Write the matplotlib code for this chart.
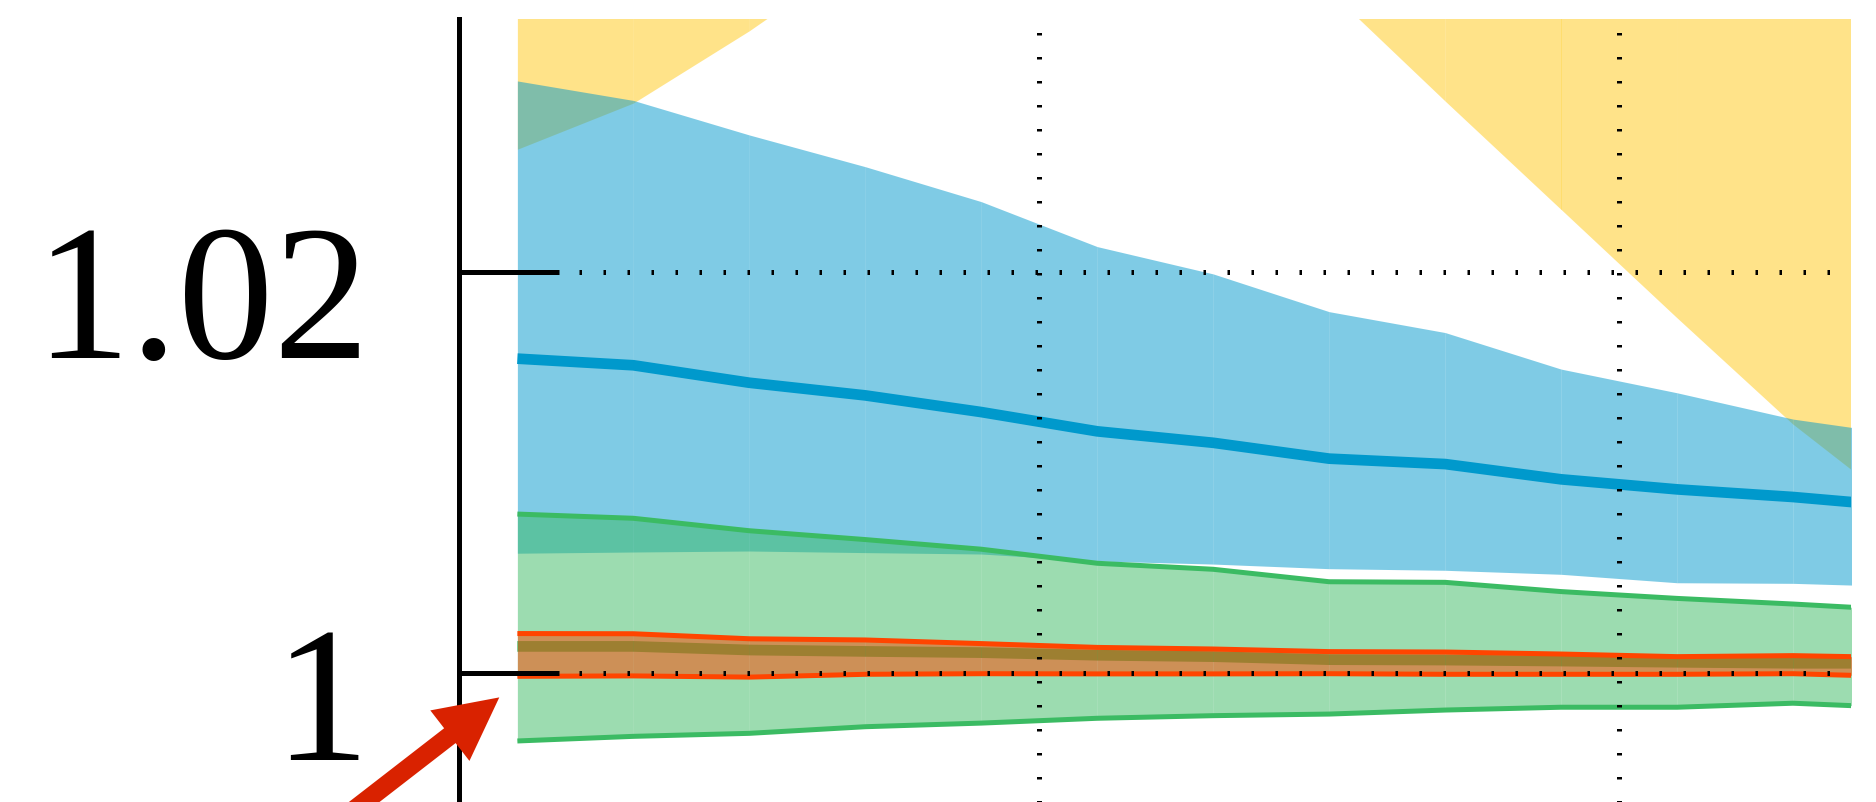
import matplotlib
matplotlib.use("Agg")
import matplotlib.pyplot as plt
from matplotlib.transforms import ScaledTranslation

plt.rcParams["font.family"] = ["Liberation Serif", "DejaVu Serif"]

# ---------------- data ----------------
x = [0.5, 1.5, 2.5, 3.5, 4.5, 5.5, 6.5, 7.5, 8.5, 9.5, 10.5, 11.5, 12.5]

yellow_upper = [1.0620, 1.0625, 1.0630, 1.0635, 1.0640, 1.0640, 1.0635, 1.0630, 1.0620, 1.0610, 1.0600, 1.0590, 1.0580]
yellow_lower = [1.0261, 1.0284, 1.0320, 1.0360, 1.0400, 1.0410, 1.0385, 1.0340, 1.0285, 1.0231, 1.0177, 1.0124, 1.0079]

blue_upper = [1.02950, 1.02853, 1.02681, 1.02523, 1.02349, 1.02125, 1.01989, 1.01801, 1.01697, 1.01515, 1.01397, 1.01266, 1.01184]
blue_mean = [1.01567, 1.01534, 1.01447, 1.01384, 1.01301, 1.01205, 1.01148, 1.01069, 1.01042, 1.00966, 1.00916, 1.00878, 1.00828]
blue_lower = [1.00598, 1.00604, 1.00609, 1.00601, 1.00594, 1.00559, 1.00544, 1.00521, 1.00513, 1.00493, 1.00451, 1.00448, 1.00431]

green_upper = [1.00793, 1.00772, 1.00710, 1.00666, 1.00618, 1.00548, 1.00518, 1.00456, 1.00453, 1.00407, 1.00373, 1.00345, 1.00313]
green_mean = [1.00134, 1.00134, 1.00116, 1.00109, 1.00103, 1.00090, 1.00083, 1.00068, 1.00066, 1.00061, 1.00055, 1.00050, 1.00050]
green_lower = [0.99663, 0.99686, 0.99701, 0.99734, 0.99752, 0.99776, 0.99789, 0.99797, 0.99817, 0.99831, 0.99831, 0.99851, 0.99827]

red_upper = [1.00198, 1.00197, 1.00172, 1.00166, 1.00148, 1.00129, 1.00121, 1.00108, 1.00106, 1.00096, 1.00083, 1.00088, 1.00078]
red_lower = [0.99985, 0.99987, 0.99981, 0.99995, 0.99998, 0.99997, 0.99997, 0.99998, 0.99995, 0.99995, 0.99995, 0.99998, 0.99982]

x_ticks = [5, 10]
y_ticks = [1.0, 1.02]
y_tick_labels = ["1", "1.02"]

arrow_tip = (0.344, 0.99880)
arrow_tail = (-1.36, 0.99118)

# ---------------- style ----------------
YELLOW = "#FFC915"
BLUE = "#0099CC"
GREEN = "#3BBB63"
RED = "#FF4500"
ARROW = "#D92200"

DPI = 100
fig = plt.figure(figsize=(18.76, 8.02), dpi=DPI)
ax = fig.add_axes([0.24488, -0.34027, 0.74179, 1.31658])
ax.set_xlim(0, 12)
ax.set_ylim(0.98, 1.032585)


def seg_fill(lo, hi, color, z):
    for i in range(len(x) - 1):
        ax.fill_between(x[i:i + 2], lo[i:i + 2], hi[i:i + 2], color=color,
                        alpha=0.5, linewidth=0, zorder=z, antialiased=True)


def line(vals, color, lw, z):
    ax.plot(x, vals, color=color, lw=lw, zorder=z,
            solid_capstyle="butt", solid_joinstyle="round")


seg_fill(yellow_lower, yellow_upper, YELLOW, 1.00)
seg_fill(blue_lower, blue_upper, BLUE, 1.10)
seg_fill(green_lower, green_upper, GREEN, 1.20)
line(green_upper, GREEN, 3.6, 1.30)
line(green_lower, GREEN, 3.6, 1.30)
line(green_mean, GREEN, 7.7, 1.30)
seg_fill(red_lower, red_upper, RED, 1.40)
line(red_upper, RED, 3.6, 1.50)
line(red_lower, RED, 3.6, 1.50)
line(blue_mean, BLUE, 7.7, 1.60)

# axes decoration
for s in ["top", "right", "bottom"]:
    ax.spines[s].set_visible(False)
ax.spines["left"].set_linewidth(3.6)
ax.set_axisbelow(False)
ax.set_xticks(x_ticks)
ax.set_xticklabels([])
ax.tick_params(axis="x", length=0)
ax.set_yticks(y_ticks)
ax.set_yticklabels(y_tick_labels, fontsize=138)
ax.tick_params(axis="y", direction="in", length=72, width=3.6, pad=65.0, color="black")
ax.grid(True, color="black", linewidth=3.6, linestyle=(0, (0.5, 4.3)))

for lab in ax.get_yticklabels():
    lab.set_fontfamily(["Liberation Serif", "DejaVu Serif"])
    lab.set_verticalalignment("center")
    lab.set_transform(lab.get_transform() + ScaledTranslation(0, -40 / DPI, fig.dpi_scale_trans))

ax.annotate("", xy=arrow_tip, xytext=arrow_tail, xycoords="data", textcoords="data",
            annotation_clip=False,
            arrowprops=dict(arrowstyle="simple,head_length=45,head_width=46,tail_width=13.5",
                            mutation_scale=1, color=ARROW, linewidth=0,
                            shrinkA=0, shrinkB=0),
            zorder=5)

fig.savefig("out.png", dpi=DPI)
